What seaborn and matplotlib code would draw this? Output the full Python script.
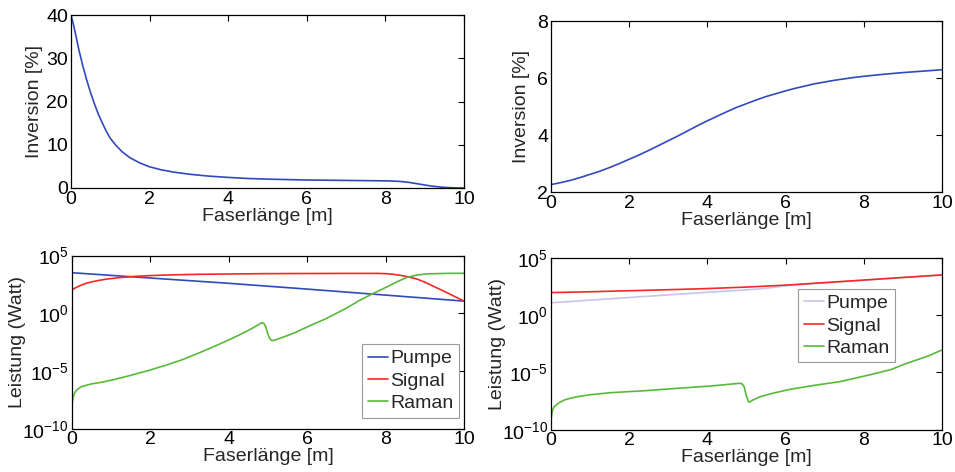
import matplotlib
matplotlib.use("Agg")
import matplotlib.pyplot as plt
import matplotlib.ticker as mticker
import pandas as pd
import seaborn as sns

# ---------------- data ----------------
# Inversion, upper left panel
inv_a_x = [0, 0.05, 0.1, 0.15, 0.2, 0.3, 0.4, 0.5, 0.6, 0.7, 0.8, 0.9, 1.0, 1.15, 1.3, 1.5,
           1.75, 2.0, 2.3, 2.6, 3.0, 3.5, 4.0, 4.5, 5.0, 5.5, 6.0, 6.5, 7.0, 7.5, 8.0, 8.2,
           8.4, 8.6, 8.8, 9.0, 9.2, 9.4, 9.6, 9.8, 10.0]
inv_a_y = [40, 38.3, 36.3, 34.2, 32.0, 28.3, 25.0, 22.0, 19.4, 17.0, 15.0, 13.1, 11.5, 9.8,
           8.4, 7.0, 5.8, 4.9, 4.2, 3.7, 3.2, 2.75, 2.45, 2.2, 2.05, 1.95, 1.85, 1.8, 1.75,
           1.7, 1.65, 1.6, 1.5, 1.3, 1.0, 0.7, 0.42, 0.22, 0.1, 0.03, 0.0]

# Inversion, upper right panel
inv_b_x = [0, 0.25, 0.5, 0.75, 1, 1.25, 1.5, 1.75, 2, 2.25, 2.5, 2.75, 3, 3.25, 3.5, 3.75,
           4, 4.25, 4.5, 4.75, 5, 5.25, 5.5, 5.75, 6, 6.25, 6.5, 6.75, 7, 7.25, 7.5, 7.75,
           8, 8.5, 9, 9.5, 10]
inv_b_y = [2.26, 2.33, 2.41, 2.51, 2.62, 2.73, 2.86, 3.0, 3.15, 3.3, 3.46, 3.63, 3.8, 3.97,
           4.15, 4.33, 4.5, 4.66, 4.82, 4.97, 5.1, 5.23, 5.35, 5.45, 5.55, 5.64, 5.72, 5.8,
           5.86, 5.92, 5.97, 6.02, 6.06, 6.13, 6.19, 6.24, 6.29]

# Power, lower left panel (Watt)
pump_a_x = [0, 2, 4, 6, 8, 10]
pump_a_y = [3310, 1150, 400, 126, 38, 11.5]

signal_a_x = [0, 0.1, 0.2, 0.35, 0.5, 0.7, 0.9, 1.2, 1.6, 2.0, 2.5, 3.2, 4.0, 5.0, 6.0, 7.0,
              7.8, 8.0, 8.2, 8.4, 8.6, 8.8, 9.0, 9.5, 10.0]
signal_a_y = [105, 166, 240, 380, 525, 724, 933, 1230, 1585, 1862, 2138, 2399, 2570, 2754,
              2818, 2884, 2884, 2754, 2399, 1905, 1413, 933, 501, 79, 11.5]

raman_a_x = [0, 0.02, 0.04, 0.08, 0.13, 0.25, 0.5, 0.8, 1.1, 1.5, 2.0, 2.4, 2.8, 3.2, 3.6,
             4.0, 4.3, 4.6, 4.8, 4.85, 4.9, 4.95, 5.0, 5.05, 5.1, 5.19, 5.4, 5.65, 6.0, 6.5,
             7.0, 7.35, 7.7, 8.04, 8.3, 8.55, 8.8, 9.06, 9.5, 10.0]
raman_a_y = [8.1e-9, 2.5e-8, 6.0e-8, 1.4e-7, 2.3e-7, 4.5e-7, 7.6e-7, 1.12e-6, 1.9e-6,
             4.2e-6, 1.23e-5, 3.2e-5, 9.1e-5, 3.2e-4, 1.2e-3, 4.9e-3, 1.48e-2, 5.0e-2,
             1.26e-1, 1.55e-1, 1.32e-1, 6.3e-2, 1.58e-2, 6.3e-3, 4.3e-3, 4.9e-3, 8.9e-3,
             1.86e-2, 6.6e-2, 3.7e-1, 2.8, 14, 56, 200, 560, 1320, 2090, 2630, 2880, 2950]

# Power, lower right panel (Watt)
pump_b_x = [0, 1, 2, 3, 4, 5, 5.5, 6, 7, 8, 9, 10]
pump_b_y = [11.7, 20, 34, 57.5, 95, 158, 214, 355, 631, 1072, 1820, 3090]

signal_b_x = [0, 1, 2, 3, 4, 5, 6, 7, 8, 9, 10]
signal_b_y = [91, 107, 132, 162, 204, 275, 407, 676, 1122, 1905, 3162]

raman_b_x = [0, 0.02, 0.04, 0.08, 0.13, 0.2, 0.34, 0.5, 0.68, 1.0, 1.53, 2.39, 3.24, 4.09,
             4.81, 4.88, 4.94, 4.99, 5.05, 5.09, 5.13, 5.35, 5.7, 6.11, 6.7, 7.39, 8.24,
             8.7, 9.1, 9.6, 10.0]
raman_b_y = [7.1e-10, 2.5e-9, 5.2e-9, 1.0e-8, 1.4e-8, 2.2e-8, 3.9e-8, 5.6e-8, 7.6e-8,
             1.12e-7, 1.7e-7, 2.5e-7, 4.1e-7, 6.5e-7, 1.1e-6, 1.05e-6, 5.6e-7, 1.07e-7,
             2.75e-8, 2.6e-8, 3.5e-8, 7.6e-8, 1.6e-7, 3.3e-7, 7.1e-7, 1.55e-6, 7.2e-6,
             1.8e-5, 6.2e-5, 2.35e-4, 8.9e-4]

series_names = ["Pumpe", "Signal", "Raman"]
x_label = "Faserlänge [m]"
inv_label = "Inversion [%]"
power_label = "Leistung (Watt)"

# ---------------- style ----------------
sns.set_style("white")
plt.rcParams["font.family"] = ["Liberation Sans", "DejaVu Sans"]
plt.rcParams["mathtext.fontset"] = "custom"
plt.rcParams["mathtext.rm"] = "Liberation Sans"
plt.rcParams["mathtext.it"] = "Liberation Sans:italic"
plt.rcParams["axes.unicode_minus"] = False

FS = 14
BLUE = "#3149bd"
RED = "#f42828"
GREEN = "#58b93a"
LAVENDER = "#c7c5ec"

fig = plt.figure(figsize=(9.55, 4.72), dpi=100)
ax_tl = fig.add_axes([0.0743, 0.6017, 0.4115, 0.3665])
ax_tr = fig.add_axes([0.5770, 0.5932, 0.4094, 0.3623])
ax_bl = fig.add_axes([0.0751, 0.0917, 0.4108, 0.3667])
ax_br = fig.add_axes([0.5770, 0.0896, 0.4094, 0.3644])


def matlab_frame(ax, ylabel, ylabel_x):
    for s in ax.spines.values():
        s.set_visible(True)
        s.set_color("black")
        s.set_linewidth(0.9)
    ax.tick_params(direction="in", length=4, width=0.8, top=True, right=True,
                   labelsize=FS, pad=2, colors="black")
    ax.set_xlim(0, 10)
    ax.set_xticks([0, 2, 4, 6, 8, 10])
    ax.set_xlabel(x_label, fontsize=FS, labelpad=0)
    ax.set_ylabel(ylabel, fontsize=FS)
    ax.yaxis.set_label_coords(ylabel_x, 0.5)


# upper left: inversion
df_a = pd.DataFrame({"x": inv_a_x, "y": inv_a_y})
sns.lineplot(data=df_a, x="x", y="y", ax=ax_tl, color=BLUE, linewidth=1.2,
             estimator=None, sort=False)
matlab_frame(ax_tl, inv_label, -0.071)
ax_tl.set_ylim(0, 40)
ax_tl.set_yticks([0, 10, 20, 30, 40])

# upper right: inversion
df_b = pd.DataFrame({"x": inv_b_x, "y": inv_b_y})
sns.lineplot(data=df_b, x="x", y="y", ax=ax_tr, color=BLUE, linewidth=1.2,
             estimator=None, sort=False)
matlab_frame(ax_tr, inv_label, -0.054)
ax_tr.set_ylim(2, 8)
ax_tr.set_yticks([2, 4, 6, 8])


def power_frame(ax, df, palette, legend_anchor, ylabel_x):
    sns.lineplot(data=df, x="x", y="P", hue="Kurve", hue_order=series_names,
                 palette=palette, ax=ax, linewidth=1.2, estimator=None, sort=False)
    ax.set_yscale("log")
    matlab_frame(ax, power_label, ylabel_x)
    ax.set_ylim(1e-10, 1e5)
    ax.yaxis.set_major_locator(mticker.FixedLocator([1e-10, 1e-5, 1e0, 1e5]))
    ax.yaxis.set_minor_locator(mticker.NullLocator())
    ax.yaxis.set_major_formatter(mticker.LogFormatterSciNotation())
    leg = ax.legend(loc="upper left", bbox_to_anchor=legend_anchor, fontsize=FS,
                    frameon=True, fancybox=False, framealpha=1, edgecolor="#9a9a9a",
                    handlelength=1.05, handletextpad=0.1, borderpad=0.28,
                    labelspacing=0.25, borderaxespad=0)
    leg.get_frame().set_linewidth(0.8)


def power_table(px, py, sx, sy, rx, ry):
    return pd.concat([
        pd.DataFrame({"x": px, "P": py, "Kurve": series_names[0]}),
        pd.DataFrame({"x": sx, "P": sy, "Kurve": series_names[1]}),
        pd.DataFrame({"x": rx, "P": ry, "Kurve": series_names[2]}),
    ], ignore_index=True)


df_c = power_table(pump_a_x, pump_a_y, signal_a_x, signal_a_y, raman_a_x, raman_a_y)
power_frame(ax_bl, df_c, {"Pumpe": BLUE, "Signal": RED, "Raman": GREEN},
            (0.741, 0.488), -0.117)

df_d = power_table(pump_b_x, pump_b_y, signal_b_x, signal_b_y, raman_b_x, raman_b_y)
power_frame(ax_br, df_d, {"Pumpe": LAVENDER, "Signal": RED, "Raman": GREEN},
            (0.632, 0.818), -0.115)

fig.savefig("out.png", dpi=100, facecolor="white")
